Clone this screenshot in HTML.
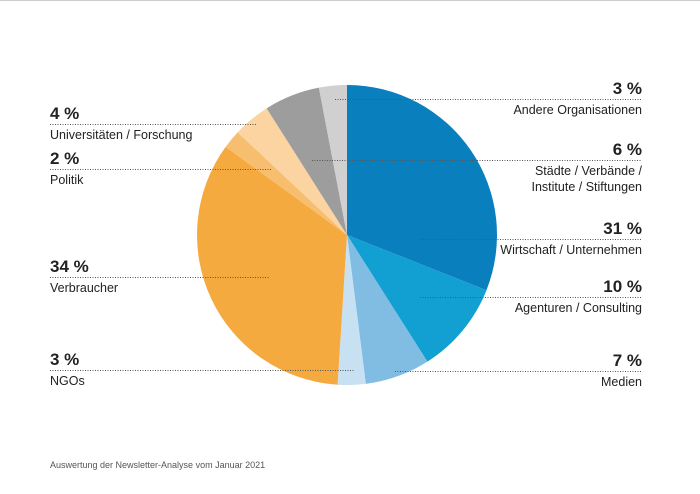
<!DOCTYPE html>
<html><head><meta charset="utf-8"><style>
body{margin:0;background:#fff;}
svg text{font-family:"Liberation Sans",sans-serif;fill:#222;}
.p{font-size:17px;font-weight:bold;}
.l{font-size:12.5px;}
</style></head><body>
<svg id="s" width="700" height="489" xmlns="http://www.w3.org/2000/svg">
<line x1="0" y1="0.5" x2="700" y2="0.5" stroke="#ccc"/>
<g id="pie"></g>
<g stroke="#555" stroke-width="1" stroke-dasharray="1,1.5">
<line x1="335" y1="99.5" x2="642" y2="99.5"/>
<line x1="312" y1="160.5" x2="642" y2="160.5"/>
<line x1="420" y1="239.5" x2="642" y2="239.5"/>
<line x1="420" y1="297.5" x2="642" y2="297.5"/>
<line x1="395" y1="371.5" x2="642" y2="371.5"/>
<line x1="50" y1="124.5" x2="257" y2="124.5"/>
<line x1="50" y1="169.5" x2="271" y2="169.5"/>
<line x1="50" y1="277.5" x2="270" y2="277.5"/>
<line x1="50" y1="370.5" x2="355" y2="370.5"/>
</g>
<g text-anchor="end">
<text class="p" x="642" y="94">3 %</text><text class="l" x="642" y="114">Andere Organisationen</text>
<text class="p" x="642" y="155">6 %</text><text class="l" x="642" y="175">Städte / Verbände /</text><text class="l" x="642" y="191">Institute / Stiftungen</text>
<text class="p" x="642" y="234">31 %</text><text class="l" x="642" y="254">Wirtschaft / Unternehmen</text>
<text class="p" x="642" y="292">10 %</text><text class="l" x="642" y="312">Agenturen / Consulting</text>
<text class="p" x="642" y="366">7 %</text><text class="l" x="642" y="386">Medien</text>
</g>
<text class="p" x="50" y="119">4 %</text><text class="l" x="50" y="139">Universitäten / Forschung</text>
<text class="p" x="50" y="164">2 %</text><text class="l" x="50" y="184">Politik</text>
<text class="p" x="50" y="272">34 %</text><text class="l" x="50" y="292">Verbraucher</text>
<text class="p" x="50" y="365">3 %</text><text class="l" x="50" y="385">NGOs</text>
<text x="50" y="468" style="font-size:9px;fill:#555">Auswertung der Newsletter-Analyse vom Januar 2021</text>
</svg>
<script>
var d=[[31,"#0a7fbd"],[10,"#11a0d1"],[7,"#81bde2"],[3,"#c7e1f2"],[34,"#f5aa40"],[2,"#f8be70"],[4,"#fcd4a1"],[6,"#9d9d9d"],[3,"#d0d0d0"]];
var cx=347,cy=235,r=150,a=0,g=document.getElementById("pie"),h="";
d.forEach(function(s){var a2=a+s[0]/100*2*Math.PI;
var x1=cx+r*Math.sin(a),y1=cy-r*Math.cos(a),x2=cx+r*Math.sin(a2),y2=cy-r*Math.cos(a2);
h+='<path fill="'+s[1]+'" d="M'+cx+','+cy+'L'+x1+','+y1+'A'+r+','+r+' 0 '+(a2-a>Math.PI?1:0)+' 1 '+x2+','+y2+'Z"/>';a=a2;});
g.innerHTML=h;
</script>
</body></html>
